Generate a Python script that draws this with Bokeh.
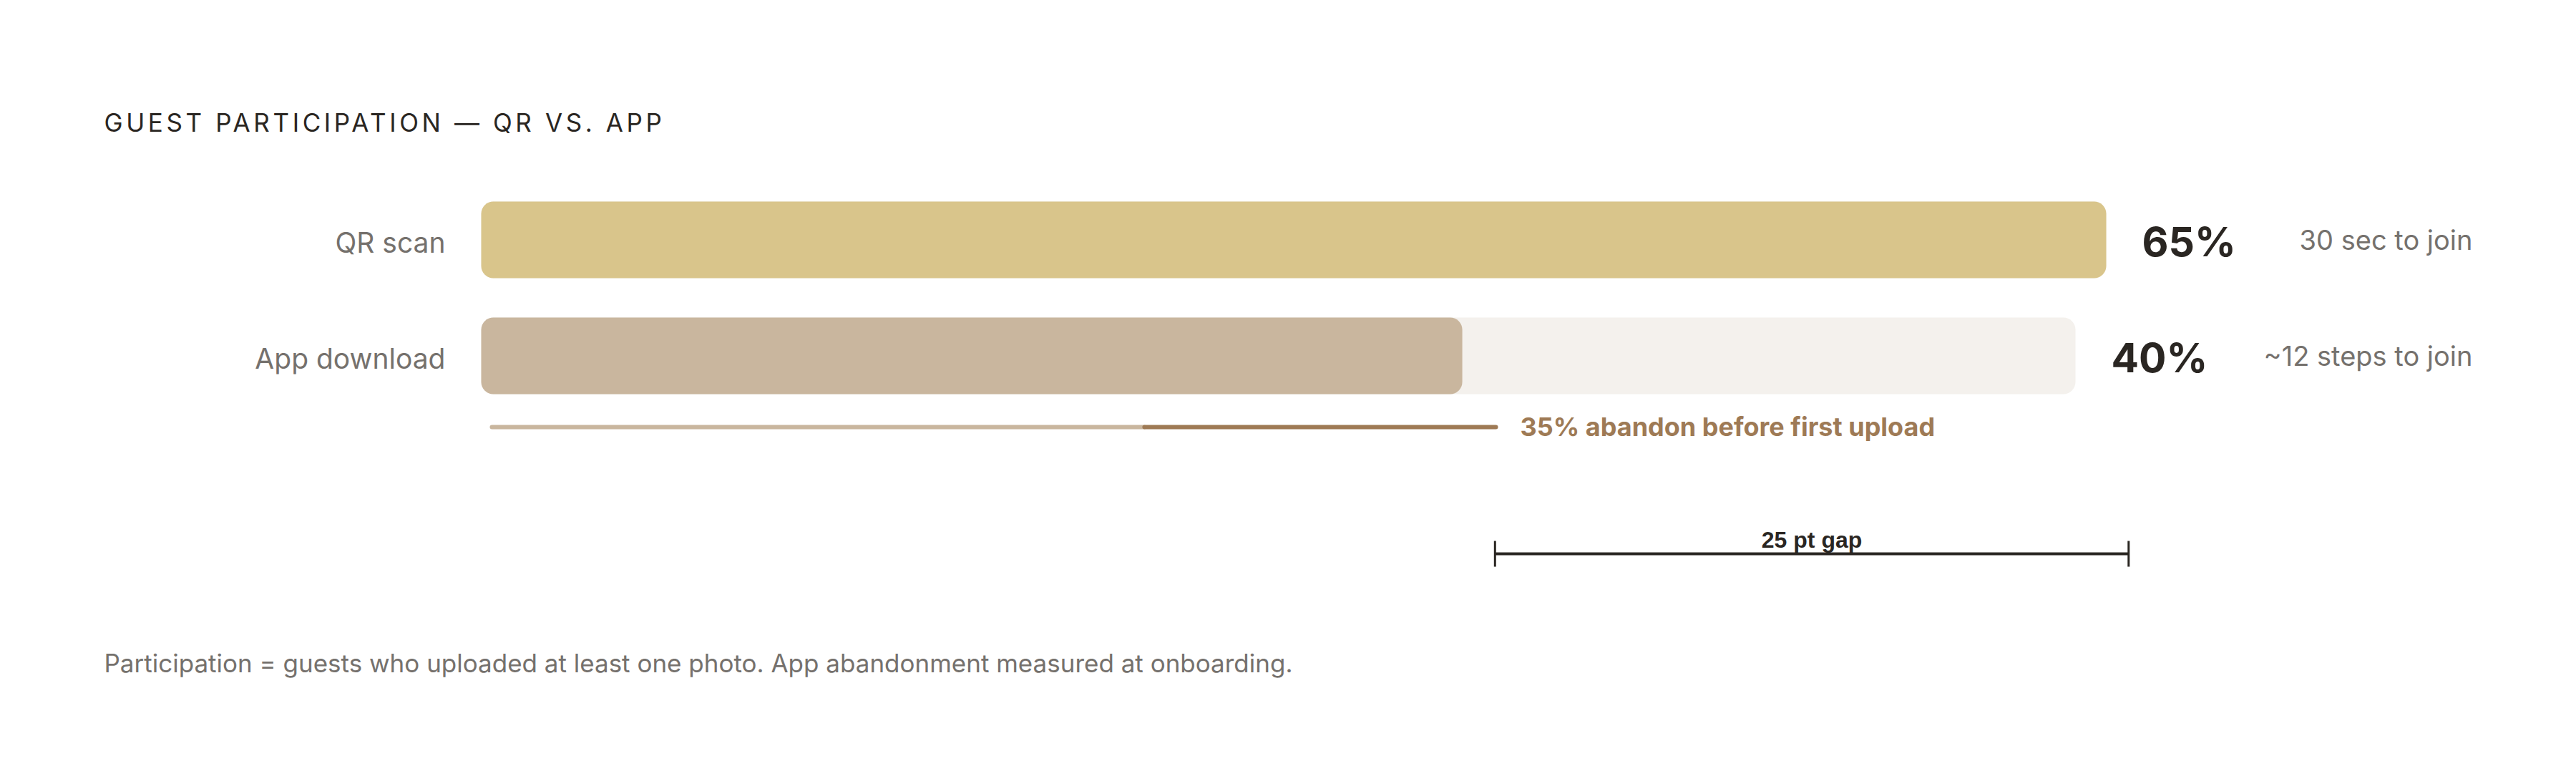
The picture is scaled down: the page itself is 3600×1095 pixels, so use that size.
from bokeh.plotting import figure
from bokeh.layouts import column
from bokeh.models import Range1d
from bokeh.core.properties import value
from bokeh.embed import file_html
from bokeh.resources import INLINE

# ---------------- data ----------------
categories = ["QR scan", "App download"]
participation = [65, 40]
join_notes = ["30 sec to join", "~12 steps to join"]
abandon_pct = 35
title_text = "GUEST PARTICIPATION — QR VS. APP"
footnote_text = "Participation = guests who uploaded at least one photo. App abandonment measured at onboarding."

# ---------------- layout (page pixels) ----------------
W, H = 3584, 1079
HT = 220                     # title strip height
X0 = 672                     # bars start
TRACK_END = [2943, 2900]     # flex track ends per row
ROW_TOP = [281, 443]
BAR_H = 107
RADIUS = 17
FONT = "Inter"
DY = -11                     # baseline correction for text
DY_BIG = -19                 # baseline correction for large value labels

C_QR = "#d9c58b"
C_APP = "#c9b69e"
C_TRACK = "#f4f1ed"
C_DARK = "#9e7a55"
C_TEXT = "#2a2622"
C_GREY = "#75716d"


def base_fig(h, y0, y1):
    f = figure(width=W, height=h, output_backend="svg", toolbar_location=None,
               x_range=Range1d(0, W), y_range=Range1d(y1, y0),
               min_border=0, background_fill_color="white", border_fill_color="white")
    f.axis.visible = False
    f.grid.visible = False
    f.outline_line_color = None
    return f


# ---- title strip (letter-spaced) ----
t = base_fig(HT, 0, HT)
t.styles = {"letter-spacing": "4.6px"}
t.text(x=[145], y=[181 + DY], text=[title_text], text_font=value(FONT),
       text_font_size="35px", text_color=C_TEXT, text_align="left",
       text_baseline="alphabetic")

# ---- main chart ----
p = base_fig(H - HT, HT, H)

vmax = max(participation)
track_w = [te - X0 for te in TRACK_END]
fill_end = [X0 + v / vmax * tw for v, tw in zip(participation, track_w)]
tops = ROW_TOP
bottoms = [r + BAR_H for r in ROW_TOP]

# tracks
p.quad(left=[X0, X0], right=TRACK_END, top=tops, bottom=bottoms,
       fill_color=C_TRACK, line_color=None, border_radius=RADIUS)
# fills
p.quad(left=[X0, X0], right=fill_end, top=tops, bottom=bottoms,
       fill_color=[C_QR, C_APP], line_color=None, border_radius=RADIUS)

# category labels
p.text(x=[X0 - 50] * 2, y=[r + 68 + DY for r in tops], text=categories,
       text_font=value(FONT), text_font_size="39px", text_color=C_GREY,
       text_align="right", text_baseline="alphabetic")

# value labels
p.text(x=[te + 50 for te in TRACK_END], y=[r + 75 + DY_BIG for r in tops],
       text=[f"{v}%" for v in participation],
       text_font=value(FONT), text_font_size="57px", text_font_style="bold",
       text_color=C_TEXT, text_align="left", text_baseline="alphabetic")

# join notes
p.text(x=[3455] * 2, y=[r + 64 + DY for r in tops], text=join_notes,
       text_font=value(FONT), text_font_size="38px", text_color=C_GREY,
       text_align="right", text_baseline="alphabetic")

# abandonment line (app row)
line_y = 596
line_start, line_end = 687, 2090
split = line_start + (100 - abandon_pct) / 100 * (line_end - line_start)
p.line(x=[line_start, split], y=[line_y, line_y], line_color=C_APP, line_width=6, line_cap="round")
p.line(x=[split, line_end], y=[line_y, line_y], line_color=C_DARK, line_width=6, line_cap="round")
p.text(x=[2124], y=[606 + DY], text=[f"{abandon_pct}% abandon before first upload"],
       text_font=value(FONT), text_font_size="36px", text_font_style="bold",
       text_color=C_DARK, text_align="left", text_baseline="alphabetic")

# gap bracket
K = 35.42
gx0 = X0 + participation[1] * K
gx1 = X0 + participation[0] * K
gy = 773
p.segment(x0=[gx0], y0=[gy], x1=[gx1], y1=[gy], line_color=C_TEXT, line_width=4)
p.segment(x0=[gx0, gx1], y0=[755, 755], x1=[gx0, gx1], y1=[791, 791],
          line_color=C_TEXT, line_width=3)
p.text(x=[(gx0 + gx1) / 2], y=[764 + DY], text=[f"{participation[0] - participation[1]} pt gap"],
       text_font=value("Liberation Sans"), text_font_size="32px", text_font_style="bold",
       text_color=C_TEXT, text_align="center", text_baseline="alphabetic")

# footnote
p.text(x=[145], y=[936 + DY], text=[footnote_text], text_font=value(FONT),
       text_font_size="35px", text_color=C_GREY, text_align="left",
       text_baseline="alphabetic")

layout = column(t, p, spacing=0)
open("out.html", "w").write(file_html(layout, INLINE))
